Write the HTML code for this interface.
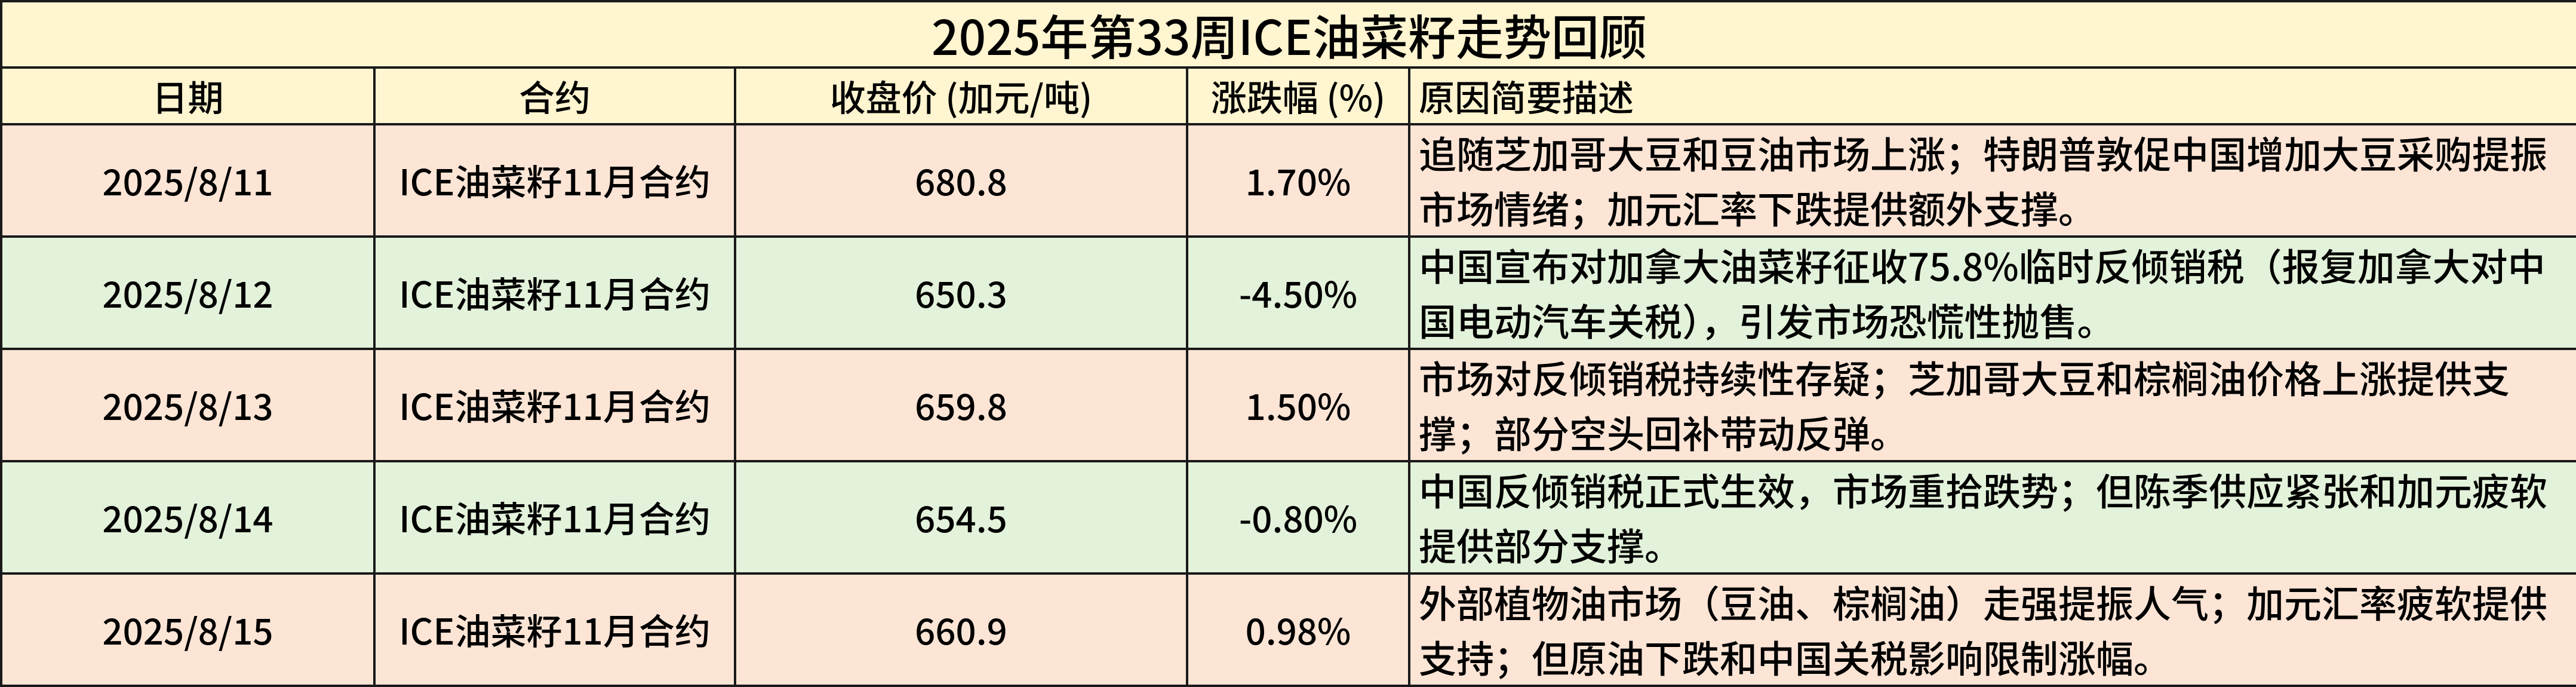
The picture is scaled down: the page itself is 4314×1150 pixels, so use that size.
<!DOCTYPE html>
<html><head><meta charset="utf-8"><style>
html,body{margin:0;padding:0;background:#fff;}
body{width:4314px;height:1150px;overflow:hidden;}
table{border-collapse:collapse;table-layout:fixed;width:4314px;font-family:"Noto Sans CJK SC","Liberation Sans",sans-serif;color:#000;font-weight:500;}
td{border:4px solid #1a1a1a;padding:0;text-align:center;vertical-align:middle;font-size:60px;overflow:hidden;line-height:1.2;}
.t td{background:#fff5d0;font-size:80px;height:107px;line-height:1;}
.h td{background:#fff5d0;height:91px;}
.r{background:#fde5d6;}
.g{background:#e3f2da;}
.r td,.g td{height:184px;}
td.d{text-align:left;padding-left:14px;font-size:63px;line-height:92px;}
.h td.d{line-height:1.2;font-size:60px;}
</style></head><body>
<table>
<colgroup><col style="width:625px"><col style="width:604px"><col style="width:757px"><col style="width:372px"><col style="width:1956px"></colgroup>
<tr class="t"><td colspan="5">2025年第33周ICE油菜籽走势回顾</td></tr>
<tr class="h"><td>日期</td><td>合约</td><td>收盘价 (加元/吨)</td><td>涨跌幅 (%)</td><td class="d">原因简要描述</td></tr>
<tr class="r"><td>2025/8/11</td><td>ICE油菜籽11月合约</td><td>680.8</td><td>1.70%</td><td class="d">追随芝加哥大豆和豆油市场上涨；特朗普敦促中国增加大豆采购提振市场情绪；加元汇率下跌提供额外支撑。</td></tr>
<tr class="g"><td>2025/8/12</td><td>ICE油菜籽11月合约</td><td>650.3</td><td>-4.50%</td><td class="d">中国宣布对加拿大油菜籽征收75.8%临时反倾销税（报复加拿大对中国电动汽车关税），引发市场恐慌性抛售。</td></tr>
<tr class="r"><td>2025/8/13</td><td>ICE油菜籽11月合约</td><td>659.8</td><td>1.50%</td><td class="d">市场对反倾销税持续性存疑；芝加哥大豆和棕榈油价格上涨提供支撑；部分空头回补带动反弹。</td></tr>
<tr class="g"><td>2025/8/14</td><td>ICE油菜籽11月合约</td><td>654.5</td><td>-0.80%</td><td class="d">中国反倾销税正式生效，市场重拾跌势；但陈季供应紧张和加元疲软提供部分支撑。</td></tr>
<tr class="r"><td>2025/8/15</td><td>ICE油菜籽11月合约</td><td>660.9</td><td>0.98%</td><td class="d">外部植物油市场（豆油、棕榈油）走强提振人气；加元汇率疲软提供支持；但原油下跌和中国关税影响限制涨幅。</td></tr>
</table>
</body></html>
